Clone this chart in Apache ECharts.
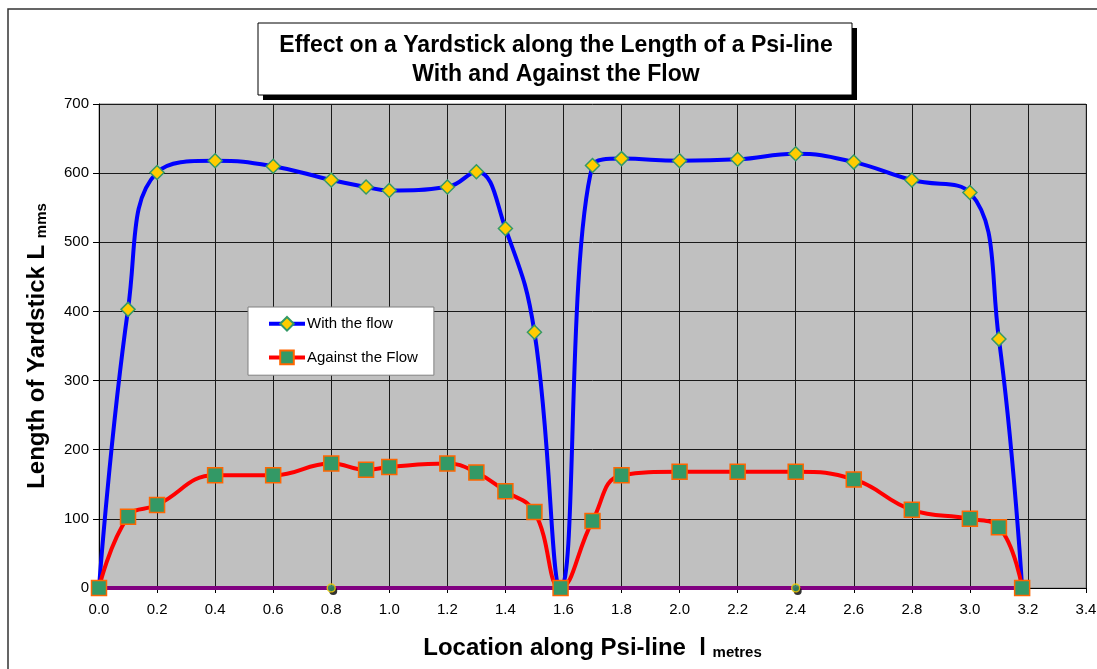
<!DOCTYPE html>
<html>
<head>
<meta charset="utf-8">
<script src="https://cdn.jsdelivr.net/npm/echarts@6/dist/echarts.min.js"></script>
<style>
html,body{margin:0;padding:0;background:#fff;}
#chart{width:1097px;height:669px;}
</style>
</head>
<body>
<div id="chart"></div>
<script>
// ---- data ----
const locations = [0, 0.1, 0.2, 0.4, 0.6, 0.8, 0.92, 1.0, 1.2, 1.3, 1.4, 1.5, 1.59, 1.7, 1.8, 2.0, 2.2, 2.4, 2.6, 2.8, 3.0, 3.1, 3.18];
const withFlow = [0, 403, 601, 618, 610, 590, 580, 575, 580, 602, 520, 370, 0, 611, 621, 618, 620, 628, 616, 590, 572, 360, 0];
const againstFlow = [0, 103, 120, 163, 163, 180, 171, 175, 180, 167, 140, 110, 0, 97, 163, 168, 168, 168, 157, 113, 100, 88, 0];
const baselineX = [0, 3.18];
const baselineY = [0, 0];
const markerX = [0.8, 2.4];
const markerY = [0, 0];
const seriesNames = ['With the flow', 'Against the Flow'];
const titleLines = ['Effect on a Yardstick along the Length of a Psi-line', 'With and Against the Flow'];

const FONT = 'Arial, "Liberation Sans", sans-serif';
const pair = (xs, ys) => xs.map((x, i) => [x, ys[i]]);

const chart = echarts.init(document.getElementById('chart'), null, {renderer: 'canvas'});
chart.setOption({
  animation: false,
  backgroundColor: '#ffffff',
  textStyle: {fontFamily: FONT},
  grid: {
    left: 99, right: 11, top: 104, bottom: 81,
    outerBoundsMode: 'none', containLabel: false,
    show: true, backgroundColor: '#c0c0c0', borderColor: '#808080', borderWidth: 1
  },
  legend: {
    orient: 'vertical', left: 248, top: 307,
    itemWidth: 36, itemHeight: 17, itemGap: 18,
    padding: [9, 16, 10, 19],
    backgroundColor: '#ffffff', borderColor: '#808080', borderWidth: 1,
    lineStyle: {width: 4},
    textStyle: {fontFamily: FONT, fontSize: 15, color: '#000', padding: [0, 0, 0, -3]},
    data: seriesNames
  },
  xAxis: {
    type: 'value', min: 0, max: 3.4, interval: 0.2,
    name: '{a|Location along Psi-line  l }{b|metres}',
    nameLocation: 'middle', nameGap: 48,
    nameTextStyle: {rich: {
      a: {fontFamily: FONT, fontSize: 24, fontWeight: 'bold', color: '#000'},
      b: {fontFamily: FONT, fontSize: 15, fontWeight: 'bold', color: '#000', padding: [9, 0, 0, 0]}
    }},
    axisLine: {show: true, onZero: false, lineStyle: {color: '#000', width: 1}},
    axisTick: {show: true, length: 5, lineStyle: {color: '#000'}},
    axisLabel: {fontFamily: FONT, fontSize: 15, color: '#000', margin: 14,
      formatter: v => v.toFixed(1)},
    splitLine: {show: true, lineStyle: {color: '#1a1a1a', width: 1}}
  },
  yAxis: {
    type: 'value', min: 0, max: 700, interval: 100,
    name: '{a|Length of Yardstick L }{b|mms}',
    nameLocation: 'middle', nameGap: 50,
    nameTextStyle: {rich: {
      a: {fontFamily: FONT, fontSize: 24, fontWeight: 'bold', color: '#000'},
      b: {fontFamily: FONT, fontSize: 15, fontWeight: 'bold', color: '#000', padding: [9, 0, 0, 0]}
    }},
    axisLine: {show: true, lineStyle: {color: '#000', width: 1}},
    axisTick: {show: true, length: 6, lineStyle: {color: '#000'}},
    axisLabel: {fontFamily: FONT, fontSize: 15, color: '#000', margin: 10},
    splitLine: {show: true, lineStyle: {color: '#1a1a1a', width: 1}}
  },
  series: [
    {
      name: 'baseline', type: 'line', data: pair(baselineX, baselineY),
      symbol: 'none', lineStyle: {color: '#800080', width: 4}, z: 2, silent: true
    },
    {
      name: 'markShadow', type: 'scatter', data: pair(markerX, markerY),
      symbol: 'circle', symbolSize: 8, symbolOffset: [2, 3],
      itemStyle: {color: '#000'}, z: 3, silent: true, clip: false
    },
    {
      name: 'marks', type: 'scatter', data: pair(markerX, markerY),
      symbol: 'circle', symbolSize: 8,
      itemStyle: {color: '#339966', borderColor: '#ffcc00', borderWidth: 1.5}, z: 4, silent: true, clip: false
    },
    {
      name: seriesNames[0], type: 'line', data: pair(locations, withFlow),
      smooth: 0.45, symbol: 'diamond', symbolSize: 14, showAllSymbol: true,
      lineStyle: {color: '#0000ff', width: 4},
      itemStyle: {color: '#ffcc00', borderColor: '#339966', borderWidth: 1.5},
      z: 5, clip: false
    },
    {
      name: seriesNames[1], type: 'line', data: pair(locations, againstFlow),
      smooth: 0.45, symbol: 'rect', symbolSize: 15, showAllSymbol: true,
      lineStyle: {color: '#ff0000', width: 4},
      itemStyle: {color: '#339966', borderColor: '#ff6600', borderWidth: 1.5},
      z: 6, clip: false
    }
  ],
  graphic: [
    {type: 'rect', shape: {x: 8, y: 9, width: 1200, height: 800},
      style: {fill: null, stroke: '#333', lineWidth: 1.5}, z: 100},
    {type: 'rect', shape: {x: 263, y: 28, width: 594, height: 72},
      style: {fill: '#000'}, z: 100},
    {type: 'rect', shape: {x: 258, y: 23, width: 594, height: 72},
      style: {fill: '#fff', stroke: '#000', lineWidth: 1}, z: 101},
    {type: 'text', x: 556, y: 46, z: 102,
      style: {text: titleLines[0], font: 'bold 23px ' + FONT, fill: '#000', align: 'center', verticalAlign: 'middle'}},
    {type: 'text', x: 556, y: 75, z: 102,
      style: {text: titleLines[1], font: 'bold 23px ' + FONT, fill: '#000', align: 'center', verticalAlign: 'middle'}}
  ]
});
</script>
</body>
</html>
